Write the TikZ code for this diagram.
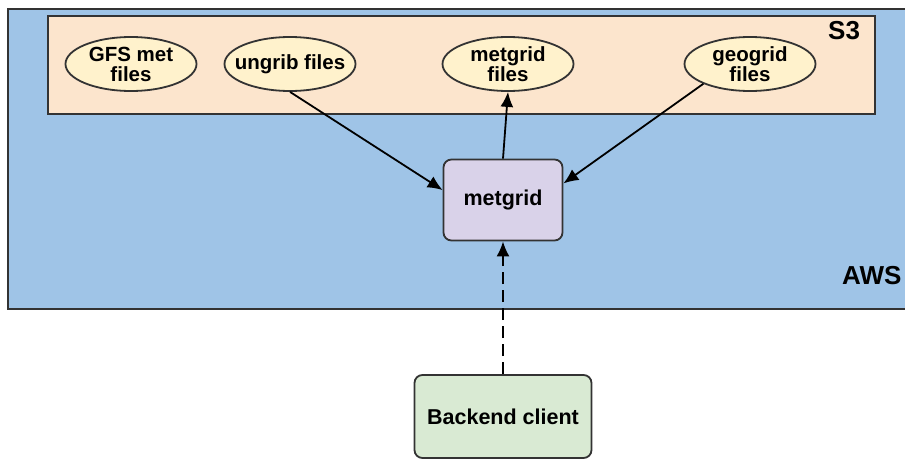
\documentclass[tikz,border=0pt]{standalone}
\usepackage{fontspec}
\setmainfont{Liberation Sans}
\usetikzlibrary{shapes.geometric,arrows.meta,calc}
\definecolor{awsblue}{RGB}{159,196,231}
\definecolor{sthree}{RGB}{252,229,205}
\definecolor{ellfill}{RGB}{255,242,204}
\definecolor{mgfill}{RGB}{217,210,233}
\definecolor{befill}{RGB}{217,234,211}
\definecolor{edge}{RGB}{51,51,51}
\tikzset{
  region/.style={draw=edge,line width=2pt},
  filenode/.style={ellipse,draw=edge,line width=1.8pt,fill=ellfill,minimum width=131pt,minimum height=54pt,inner sep=0pt,align=center,font=\fontsize{20.5}{21}\selectfont\bfseries},
  procbox/.style={draw=edge,line width=1.8pt,rounded corners=8pt,align=center,font=\fontsize{21.5}{23}\selectfont\bfseries},
  conn/.style={line width=1.8pt,-{Latex[length=15pt,width=13pt]}},
  lbl/.style={font=\fontsize{26}{28}\selectfont\bfseries,inner sep=0pt}
}
\begin{document}
\begin{tikzpicture}[x=1pt,y=-1pt]
\useasboundingbox (0,0) rectangle (905,458);
\clip (0,0) rectangle (905,458);
\fill[white] (0,0) rectangle (905,458);
% AWS region
\draw[region,fill=awsblue] (8,9) rectangle (920,309);
\node[lbl,anchor=base west] (aws) at (842,284) {AWS};
% S3 region
\draw[region,fill=sthree] (48,16) rectangle (875,114);
\node[lbl,anchor=base west] (s3) at (828,39) {S3};
% files
\node[filenode] (gfs) at (131,64) {GFS met\\[-1pt]files};
\node[filenode] (ung) at (290,64) {\makebox[60pt]{ungrib files}};
\node[filenode] (mgf) at (508,64) {metgrid\\[-1pt]files};
\node[filenode] (geo) at (750,64) {geogrid\\[-1pt]files};
% processes
\node[procbox,fill=mgfill,minimum width=119pt,minimum height=81pt] (mg) at (503,200) {metgrid};
\node[procbox,fill=befill,minimum width=177pt,minimum height=83pt] (be) at (503,416.5) {Backend client};
% connectors
\draw[conn] (ung.south) -- ($(mg.north west)!0.38!(mg.south west)$);
\draw[conn] (mg.north) -- (mgf.south);
\draw[conn] (geo.203) -- ($(mg.north east)!0.3!(mg.south east)$);
\draw[conn,dash pattern=on 12pt off 6pt] (be.north) -- (mg.south);
\end{tikzpicture}
\end{document}
